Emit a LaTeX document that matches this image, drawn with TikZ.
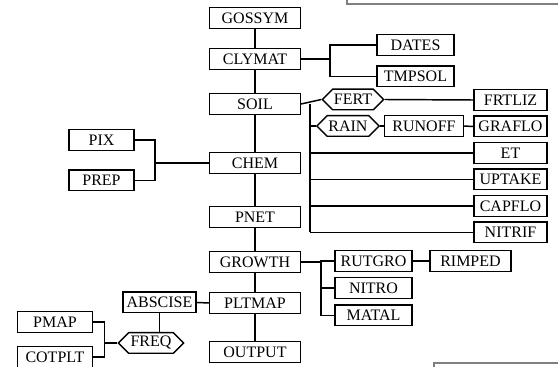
\documentclass[tikz,border=0pt]{standalone}
\usepackage{fontspec}
\setmainfont{Liberation Serif}
\usetikzlibrary{shapes.symbols,positioning,calc}
\tikzset{
    module/.style={rectangle, draw, line width=1.1pt, minimum height=15.4pt, inner sep=0pt, align=center, font=\fontsize{12}{14}\selectfont},
    common/.style={signal, signal to=west and east, draw, line width=1.1pt, minimum height=15.4pt, inner xsep=1pt, inner ysep=0pt, font=\fontsize{12}{14}\selectfont},
    link/.style={line width=1.1pt},
    frame/.style={gray, line width=0.8pt},
}

\begin{document}
\begin{tikzpicture}[x=0.75pt, y=-0.75pt]
    \useasboundingbox (0,0) rectangle (558,367);

    % main column
    \node[module, minimum width=68pt] (gossym) at (255,18) {GOSSYM};
    \node[module, minimum width=68pt] (clymat) at (255,59) {CLYMAT};
    \node[module, minimum width=68pt] (soil)   at (255,104) {SOIL};
    \node[module, minimum width=68pt] (chem)   at (255,163) {CHEM};
    \node[module, minimum width=68pt] (pnet)   at (255,217) {PNET};
    \node[module, minimum width=68pt] (growth) at (255,262) {GROWTH};
    \node[module, minimum width=68pt] (pltmap) at (255,303) {PLTMAP};
    \node[module, minimum width=68pt] (output) at (255,352) {OUTPUT};

    % weather branch
    \node[module, minimum width=58pt] (dates)  at (415.5,45) {DATES};
    \node[module, minimum width=58pt] (tmpsol) at (415.5,76.5) {TMPSOL};

    % soil branch
    \node[common, minimum width=46pt] (fert)   at (353,99.5) {FERT};
    \node[common, minimum width=46pt] (rain)   at (348,126) {RAIN};
    \node[module, minimum width=59pt] (runoff) at (424,126) {RUNOFF};
    \node[module, minimum width=55pt] (frtliz) at (510.5,100) {FRTLIZ};
    \node[module, minimum width=55pt] (graflo) at (510.5,126.5) {GRAFLO};
    \node[module, minimum width=55pt] (et)     at (510.5,153) {ET};
    \node[module, minimum width=55pt] (uptake) at (510.5,179.5) {UPTAKE};
    \node[module, minimum width=55pt] (capflo) at (510.5,206) {CAPFLO};
    \node[module, minimum width=55pt] (nitrif) at (510.5,232.5) {NITRIF};
    \coordinate (soilbus) at (310,232.5);

    % chemical branch
    \node[module, minimum width=49pt] (pix)  at (101.5,140) {PIX};
    \node[module, minimum width=49pt] (prep) at (101.5,180.5) {PREP};

    % growth branch
    \node[module, minimum width=58pt] (rutgro) at (373.5,261) {RUTGRO};
    \node[module, minimum width=61pt] (rimped) at (470.5,261) {RIMPED};
    \node[module, minimum width=58pt] (nitro)  at (373.5,288) {NITRO};
    \node[module, minimum width=58pt] (matal)  at (373.5,315.5) {MATAL};

    % plant map branch
    \node[module, minimum width=55pt] (abscise) at (159.5,302.5) {ABSCISE};
    \node[common, minimum width=49pt] (freq)    at (151,343) {FREQ};
    \node[module, minimum width=56pt] (pmap)    at (55,322) {PMAP};
    \node[module, minimum width=56pt] (cotplt)  at (55,357) {COTPLT};

    % links
    \draw[link] (gossym) -- (clymat) -- (soil) -- (chem) -- (pnet) -- (growth) -- (pltmap) -- (output);
    \draw[link] (clymat.east) -- ++(29,0) coordinate (cly);
    \draw[link] (dates.west) -| (cly) |- (tmpsol.west);
    \draw[link] (soil.east) -- (fert.west);
    \draw[link] (fert.east) -- (frtliz.west);
    \draw[link] (soilbus |- soil.east) -- (soilbus);
    \foreach \n in {rain,et,uptake,capflo,nitrif}
        \draw[link] (soilbus |- \n.west) -- (\n.west);
    \draw[link] (rain.east) -- (runoff.west);
    \draw[link] (runoff.east) -- (graflo.west);
    \draw[link] (chem.west) -- ++(-54,0) coordinate (chm);
    \draw[link] (pix.east) -| (chm) |- (prep.east);
    \draw[link] (growth.east) -- ++(20,0) coordinate (grw);
    \draw[link] (rutgro.west) -| (grw) |- (matal.west);
    \draw[link] (grw |- nitro.west) -- (nitro.west);
    \draw[link] (rutgro.east) -- (rimped.west);
    \draw[link] (pltmap.west) -- (abscise.east);
    \draw[link] (abscise.south) -- (abscise.south |- freq.north);
    \draw[link] (freq.west) -- ++(-13,0) coordinate (frq);
    \draw[link] (pmap.east) -| (frq) |- (cotplt.east);

    % cropped frames
    \draw[frame] (347,0) -- (347,4) -- (558,4);
    \draw[frame] (434,367) -- (434,363) -- (558,363);
\end{tikzpicture}
\end{document}
